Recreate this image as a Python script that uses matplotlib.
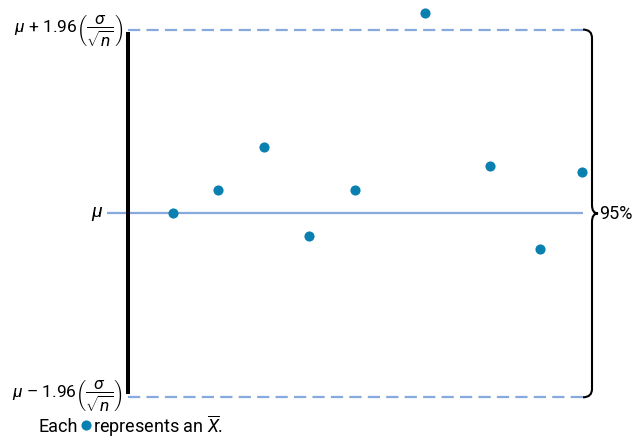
import matplotlib
matplotlib.use("Agg")
import matplotlib.pyplot as plt
from matplotlib.path import Path
from matplotlib.patches import PathPatch
import numpy as np

plt.rcParams['font.family'] = ['Roboto', 'DejaVu Sans']
plt.rcParams['mathtext.fontset'] = 'custom'
plt.rcParams['mathtext.rm'] = 'Roboto'
plt.rcParams['mathtext.it'] = 'Roboto:italic'
plt.rcParams['mathtext.bf'] = 'Roboto:bold'

# sample means (in standard-error units relative to mu) and horizontal positions
sample_x = [173, 218, 264, 309, 355, 425, 490, 540, 582]
sample_z = [0.0, 0.245, 0.703, -0.245, 0.245, 2.141, 0.511, -0.383, 0.447]
z_crit = 1.96
conf_label = "95%"

line_color = "#86aadb"
dot_color = "#0a80b0"

fig = plt.figure(figsize=(6.4, 4.39), dpi=100)
ax = fig.add_axes([0, 0, 1, 1])
ax.set_xlim(0, 640)
ax.set_ylim(-2.394, 2.286)
ax.axis('off')

x_axis = 128
x_right = 583

# mu line
ax.plot([107, x_right], [0, 0], color=line_color, lw=1.6, solid_capstyle='butt', zorder=1)
# confidence limits
for z in (z_crit, -z_crit):
    ax.plot([x_axis, x_right], [z, z], color=line_color, lw=1.6, ls=(0, (5.5, 2.8)), zorder=1)
# vertical axis bar
ax.plot([x_axis, x_axis], [-z_crit * 0.982, z_crit * 0.985], color='black', lw=2.9,
        solid_capstyle='butt', zorder=2)

# points
ax.plot(sample_x, sample_z, 'o', color=dot_color, ms=7.3, mec='none', zorder=3)

# brace
bx = 592
r = 0.09
verts = [(x_right, z_crit), (bx, z_crit), (bx, z_crit - r),
         (bx, r), (bx, 0), (bx + 6, 0),
         (bx, 0), (bx, -r),
         (bx, -z_crit + r), (bx, -z_crit), (x_right, -z_crit)]
codes = [Path.MOVETO, Path.CURVE3, Path.CURVE3,
         Path.LINETO, Path.CURVE3, Path.CURVE3,
         Path.CURVE3, Path.CURVE3,
         Path.LINETO, Path.CURVE3, Path.CURVE3]
ax.add_patch(PathPatch(Path(verts, codes), fill=False, lw=1.5, color='black'))
ax.text(599, 0, conf_label, fontsize=13, va='center', ha='left')

# labels
ax.text(103, 0, r'$\mu$', fontsize=14, va='center', ha='right')
ax.text(123, z_crit, r'$\mu$ + 1.96$\left(\dfrac{\sigma}{\sqrt{n}}\right)$', fontsize=12.5,
        va='center', ha='right')
ax.text(123, -z_crit + 0.02, r'$\mu$ – 1.96$\left(\dfrac{\sigma}{\sqrt{n}}\right)$', fontsize=12.5,
        va='center', ha='right')

# footnote
fy = -2.262
ax.text(38, fy, 'Each', fontsize=13, va='center', ha='left')
ax.plot([86], [fy + 0.01], 'o', color=dot_color, ms=7.3, mec='none')
ax.text(93, fy, r'represents an $\overline{X}$.', fontsize=13, va='center', ha='left')

fig.savefig('out.png', dpi=100)
